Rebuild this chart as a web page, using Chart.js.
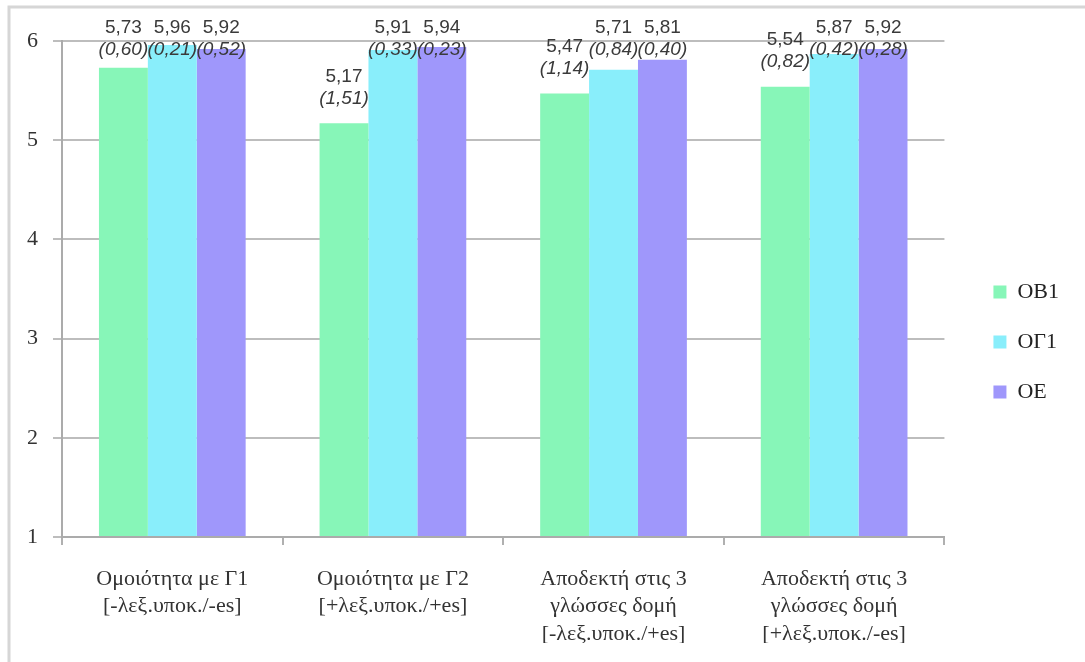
<!DOCTYPE html>
<html>
<head>
<meta charset="utf-8">
<script src="https://cdn.jsdelivr.net/npm/chart.js@4/dist/chart.umd.min.js"></script>
<style>
  html, body { margin: 0; padding: 0; background: #ffffff; }
  #wrap { width: 1085px; height: 662px; position: relative; }
</style>
</head>
<body>
<div id="wrap"><canvas id="c" width="1085" height="662"></canvas></div>
<script>
// Categories (multi-line axis labels)
const categories = [
  ["Ομοιότητα με Γ1", "[-λεξ.υποκ./-es]"],
  ["Ομοιότητα με Γ2", "[+λεξ.υποκ./+es]"],
  ["Αποδεκτή στις 3", "γλώσσες δομή", "[-λεξ.υποκ./+es]"],
  ["Αποδεκτή στις 3", "γλώσσες δομή", "[+λεξ.υποκ./-es]"]
];

// Group names
const seriesNames = ["ΟΒ1", "ΟΓ1", "ΟΕ"];

// Means per group
const meansOB1 = [5.73, 5.17, 5.47, 5.54];
const meansOG1 = [5.96, 5.91, 5.71, 5.87];
const meansOE  = [5.92, 5.94, 5.81, 5.92];

// Standard deviations per group
const sdOB1 = [0.60, 1.51, 1.14, 0.82];
const sdOG1 = [0.21, 0.33, 0.84, 0.42];
const sdOE  = [0.52, 0.23, 0.40, 0.28];

// Y axis range
const yMin = 1;
const yMax = 6;

const colors = ["#87F6B8", "#89EEFB", "#9F97FB"];
const serif = "'Liberation Serif', 'Times New Roman', serif";
const sans = "'Liberation Sans', Arial, sans-serif";

const fmt = v => v.toFixed(2).replace('.', ',');

// Light frame along top and left edges
const framePlugin = {
  id: 'frame',
  beforeDraw(chart) {
    const ctx = chart.ctx;
    ctx.save();
    ctx.fillStyle = '#ffffff';
    ctx.fillRect(0, 0, chart.width, chart.height);
    ctx.strokeStyle = '#d6d6d6';
    ctx.lineWidth = 3;
    ctx.beginPath();
    ctx.moveTo(9, chart.height);
    ctx.lineTo(9, 7);
    ctx.lineTo(chart.width, 7);
    ctx.stroke();
    ctx.restore();
  }
};

// Move the legend column a bit to the right of the plot
const legendShift = {
  id: 'legendShift',
  afterLayout(chart) {
    chart.legend.left += 21;
    chart.legend.right += 21;
  }
};

// Mean and (SD) labels above each bar
const valueLabels = {
  id: 'valueLabels',
  afterDatasetsDraw(chart) {
    const ctx = chart.ctx;
    ctx.save();
    ctx.textAlign = 'center';
    ctx.textBaseline = 'middle';
    ctx.fillStyle = '#3a3a3a';
    chart.data.datasets.forEach((ds, di) => {
      const meta = chart.getDatasetMeta(di);
      meta.data.forEach((bar, i) => {
        const line2 = Math.max(bar.y - 25, 50);
        const line1 = line2 - 22;
        ctx.font = "19px " + sans;
        ctx.fillText(fmt(ds.data[i]), bar.x, line1);
        ctx.font = "italic 19px " + sans;
        ctx.fillText('(' + fmt(ds.sd[i]) + ')', bar.x, line2);
      });
    });
    ctx.restore();
  }
};

new Chart(document.getElementById('c'), {
  type: 'bar',
  data: {
    labels: categories,
    datasets: [
      { label: seriesNames[0], data: meansOB1, sd: sdOB1, backgroundColor: colors[0], base: yMin },
      { label: seriesNames[1], data: meansOG1, sd: sdOG1, backgroundColor: colors[1], base: yMin },
      { label: seriesNames[2], data: meansOE,  sd: sdOE,  backgroundColor: colors[2], base: yMin }
    ]
  },
  options: {
    responsive: false,
    animation: false,
    devicePixelRatio: 1,
    layout: { padding: { top: 41, bottom: 19, left: 0, right: 37 } },
    datasets: { bar: { categoryPercentage: 0.665, barPercentage: 1.0, borderWidth: 0 } },
    plugins: {
      tooltip: { enabled: false },
      legend: {
        position: 'right',
        labels: {
          boxWidth: 13,
          boxHeight: 13,
          padding: 28,
          color: '#222222',
          font: { family: serif, size: 22 }
        }
      }
    },
    scales: {
      x: {
        grid: { drawOnChartArea: false, drawTicks: true, tickLength: 8, color: '#b0b0b0', lineWidth: 2 },
        border: { display: true, color: '#ababab', width: 2 },
        ticks: {
          color: '#333333',
          padding: 20,
          maxRotation: 0,
          autoSkip: false,
          font: { family: serif, size: 22, lineHeight: 1.25 }
        },
        afterFit(scale) { scale.height = 106; }
      },
      y: {
        min: yMin,
        max: yMax,
        grid: { color: '#bdbdbd', lineWidth: 2, drawTicks: true, tickLength: 9 },
        border: { display: true, color: '#ababab', width: 2 },
        ticks: {
          stepSize: 1,
          color: '#333333',
          padding: 15,
          font: { family: serif, size: 22 }
        },
        afterFit(scale) { scale.width = 62; }
      }
    }
  },
  plugins: [framePlugin, legendShift, valueLabels]
});
</script>
</body>
</html>
